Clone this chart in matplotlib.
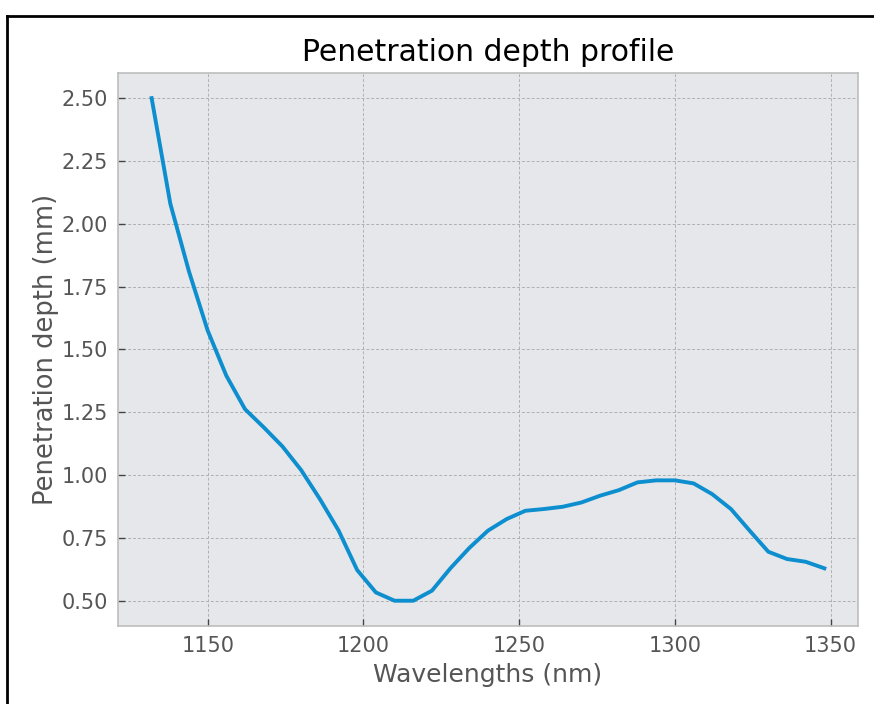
import matplotlib
matplotlib.use("Agg")
import matplotlib.pyplot as plt
from matplotlib.lines import Line2D

# longueurs d'onde (nm) et profondeur de pénétration (mm)
wavelengths = [1132, 1138, 1144, 1150, 1156, 1162, 1168, 1174, 1180, 1186,
               1192, 1198, 1204, 1210, 1216, 1222, 1228, 1234, 1240, 1246,
               1252, 1258, 1264, 1270, 1276, 1282, 1288, 1294, 1300, 1306,
               1312, 1318, 1324, 1330, 1336, 1342, 1348]
depth = [2.50, 2.08, 1.81, 1.575, 1.395, 1.262, 1.19, 1.114, 1.02, 0.905,
         0.78, 0.622, 0.533, 0.500, 0.500, 0.540, 0.630, 0.710, 0.779, 0.825,
         0.858, 0.865, 0.874, 0.891, 0.918, 0.940, 0.971, 0.979, 0.979, 0.967,
         0.924, 0.865, 0.779, 0.695, 0.666, 0.655, 0.629]

xticks = [1150, 1200, 1250, 1300, 1350]
yticks = [0.50, 0.75, 1.00, 1.25, 1.50, 1.75, 2.00, 2.25, 2.50]

fig = plt.figure(figsize=(8.74, 7.04), dpi=100)
ax = fig.add_axes([0.135, 0.111, 0.8467, 0.7853])

ax.set_facecolor('#e6e7ea')
for s in ax.spines.values():
    s.set_color('#bdbdbd')
    s.set_linewidth(1.2)

ax.plot(wavelengths, depth, color='#0d8ecf', linewidth=2.8, zorder=3)

ax.set_xticks(xticks)
ax.set_yticks(yticks)
ax.set_yticklabels([f"{v:.2f}" for v in yticks])
ax.grid(True, color='#b0b0b0', linestyle=(0, (3, 2)), linewidth=0.7)
ax.set_axisbelow(True)
ax.tick_params(direction='in', length=5, width=1, color='#444444',
               labelsize=15, labelcolor='#555555', pad=7)

ax.set_title("Penetration depth profile", fontsize=21.5, color='black', pad=9)
ax.set_xlabel("Wavelengths (nm)", fontsize=18, color='#555555', labelpad=5)
ax.set_ylabel("Penetration depth (mm)", fontsize=18.5, color='#555555', labelpad=2)

# cadre noir (bord gauche et haut)
fig.add_artist(Line2D([7/874, 7/874], [0, 1 - 16/704], transform=fig.transFigure,
                      color='black', linewidth=2))
fig.add_artist(Line2D([7/874, 1], [1 - 16/704, 1 - 16/704], transform=fig.transFigure,
                      color='black', linewidth=2))

fig.savefig("out.png", dpi=100, facecolor='white')
